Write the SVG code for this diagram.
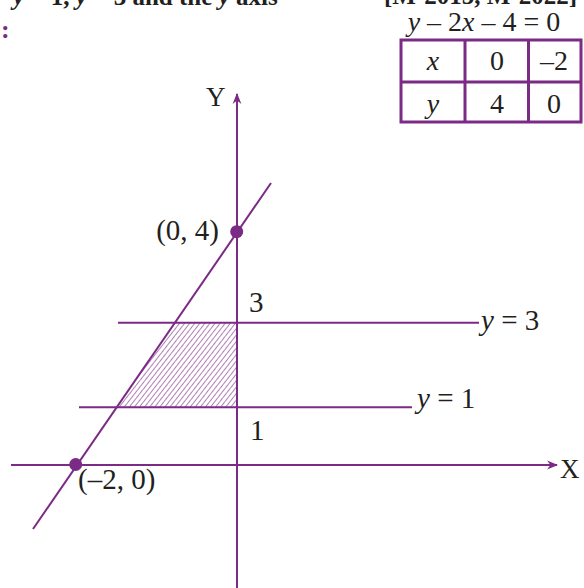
<svg xmlns="http://www.w3.org/2000/svg" width="584" height="588" viewBox="0 0 584 588">
<defs>
<style>
.ln{stroke:#7b2a85;stroke-width:2;fill:none}
.t{font-family:"Liberation Serif","Times New Roman",serif;font-size:29px;fill:#231f20}
.tt{font-size:28px}
.i{font-style:italic}
.dot{fill:#7b2a85}
.tb{stroke:#7b2a85;stroke-width:3;fill:none}
</style>
<marker id="arr" viewBox="0 0 10 10" refX="9" refY="5" markerWidth="11" markerHeight="11" markerUnits="userSpaceOnUse" orient="auto">
<path d="M0,1 L10,5 L0,9 L3,5 Z" fill="#7b2a85"/>
</marker>
<pattern id="hatch" width="4" height="4" patternUnits="userSpaceOnUse" patternTransform="rotate(38)">
<line x1="0" y1="0" x2="0" y2="4" stroke="#7b2a85" stroke-width="1.2"/>
</pattern>
</defs>
<rect width="584" height="588" fill="#ffffff"/>

<g id="header">
<text class="t" x="13" y="5" style="font-size:25px;font-weight:bold"><tspan class="i">y</tspan> = 1, <tspan class="i">y</tspan> = 3 and the <tspan class="i">y</tspan> axis</text>
<text class="t" x="577" y="4" text-anchor="end" style="font-size:25px;font-weight:bold">[M-2015, M-2022]</text>
<text class="t" x="1" y="38" style="font-size:26px;font-weight:bold;fill:#7b2a85">:</text>
</g>

<g id="region">
<polygon points="174.8,322.7 237,322.7 237,407.3 116.8,407.3" fill="url(#hatch)"/>
</g>

<g id="connectors">
<line id="x-axis" class="ln" x1="11" y1="465" x2="557" y2="465" marker-end="url(#arr)"/>
<line id="y-axis" class="ln" x1="237" y1="588" x2="237" y2="94" marker-end="url(#arr)"/>
<line id="line-y3" class="ln" x1="118" y1="322.7" x2="479" y2="322.7"/>
<line id="line-y1" class="ln" x1="79" y1="407.3" x2="412" y2="407.3"/>
<line id="line-slant" class="ln" x1="33" y1="529" x2="271" y2="183"/>
</g>

<g id="point-0-4">
<circle class="dot" cx="236.7" cy="231.7" r="6.5"/>
<text class="t" x="219" y="240" text-anchor="end">(0, 4)</text>
</g>
<g id="point-m2-0">
<circle class="dot" cx="75.7" cy="464.5" r="6.5"/>
<text class="t" x="78" y="489">(–2, 0)</text>
</g>

<g id="axis-labels">
<text class="t" x="206" y="106" style="font-size:27px">Y</text>
<text class="t" x="560" y="478" style="font-size:27px">X</text>
<text class="t" x="249" y="312">3</text>
<text class="t" x="250" y="440">1</text>
</g>

<g id="line-labels">
<text class="t" x="481" y="330"><tspan class="i">y</tspan> = 3</text>
<text class="t" x="417" y="408"><tspan class="i">y</tspan> = 1</text>
</g>

<g id="table">
<text class="t tt" x="484" y="31" text-anchor="middle"><tspan class="i">y</tspan> – 2<tspan class="i">x</tspan> – 4 = 0</text>
<rect class="tb" x="401" y="40" width="180" height="82"/>
<line class="tb" x1="401" y1="82" x2="581" y2="82"/>
<line class="tb" x1="465" y1="40" x2="465" y2="122"/>
<line class="tb" x1="528.5" y1="40" x2="528.5" y2="122"/>
<text class="t tt i" x="433" y="70" text-anchor="middle">x</text>
<text class="t tt" x="497" y="70" text-anchor="middle">0</text>
<text class="t tt" x="554" y="70" text-anchor="middle">–2</text>
<text class="t tt i" x="433" y="113" text-anchor="middle">y</text>
<text class="t tt" x="497" y="113" text-anchor="middle">4</text>
<text class="t tt" x="554" y="113" text-anchor="middle">0</text>
</g>
</svg>
